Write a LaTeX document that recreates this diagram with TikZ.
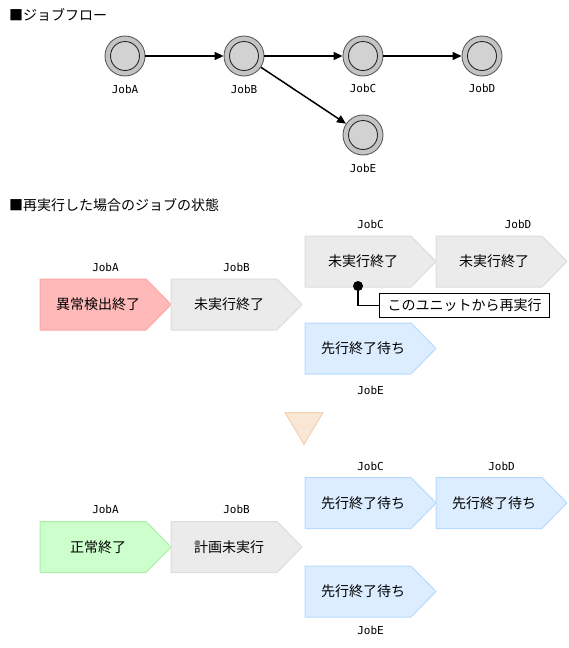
\documentclass[tikz,border=0pt]{standalone}
\usepackage{fontspec}
\newfontfamily\jp{Noto Sans CJK JP}
\newfontfamily\lblfont{DejaVu Sans Mono}
\usetikzlibrary{arrows.meta,calc}
\definecolor{pinkfill}{HTML}{FFB9B9}
\definecolor{pinkdraw}{HTML}{FFA6A6}
\definecolor{grayfill}{HTML}{EBEBEB}
\definecolor{graydraw}{HTML}{DCDCDC}
\definecolor{bluefill}{HTML}{DCEDFF}
\definecolor{bluedraw}{HTML}{B8DAFF}
\definecolor{greenfill}{HTML}{CCFFCC}
\definecolor{greendraw}{HTML}{A8F0A8}
\definecolor{trifill}{HTML}{F9E6D5}
\definecolor{tridraw}{HTML}{F2D2B6}
\definecolor{ringfill}{HTML}{C4C4C4}
\definecolor{ringdraw}{HTML}{5A5A5A}
\definecolor{corefill}{HTML}{D2D2D2}
\definecolor{coredraw}{HTML}{2A2A2A}
\tikzset{
  titletext/.style={anchor=west, font=\jp\fontsize{14}{16}\selectfont, inner sep=0pt},
  joblbl/.style={font=\lblfont\fontsize{11}{13}\selectfont, inner sep=0pt},
  jobtext/.style={font=\jp\fontsize{14}{16}\selectfont, inner sep=0pt},
  ring/.style={circle, minimum size=40pt, inner sep=0pt, fill=ringfill, draw=ringdraw, line width=0.9pt},
  core/.style={circle, minimum size=29pt, inner sep=0pt, fill=corefill, draw=coredraw, line width=0.9pt},
  flow/.style={-{Triangle[length=9pt,width=8pt]}, line width=1.5pt},
  shapeline/.style={line width=1pt},
}
\newcommand\jobshape[6]{%
  \draw[shapeline, fill=#4, draw=#5] (#2,#3) -- ++(106,0) -- ++(25,25.5) -- ++(-25,25.5) -- ++(-106,0) -- cycle;
  \node[jobtext] (#1) at (#2+58,#3+25.5) {#6};
}
\begin{document}
\begin{tikzpicture}[x=1pt,y=-1pt]
\useasboundingbox (0,0) rectangle (569,648);

% ---- Job flow ----
\node[titletext] (t1) at (9,15) {■ジョブフロー};

\node[ring] (fA) at (125,56) {};
\node[core] (fAc) at (fA) {};
\node[ring] (fB) at (244,56) {};
\node[core] (fBc) at (fB) {};
\node[ring] (fC) at (363,56) {};
\node[core] (fCc) at (fC) {};
\node[ring] (fD) at (482,56) {};
\node[core] (fDc) at (fD) {};
\node[ring] (fE) at (363,135) {};
\node[core] (fEc) at (fE) {};

\node[joblbl] (fAl) at (125,89) {JobA};
\node[joblbl] (fBl) at (244,89) {JobB};
\node[joblbl] (fCl) at (363,88) {JobC};
\node[joblbl] (fDl) at (482,88) {JobD};
\node[joblbl] (fEl) at (363,168) {JobE};

\draw[flow] (fA) -- (fB);
\draw[flow] (fB) -- (fC);
\draw[flow] (fC) -- (fD);
\draw[flow] (fB) -- (fE);

% ---- Rerun state ----
\node[titletext] (t2) at (9,205) {■再実行した場合のジョブの状態};

\jobshape{uA}{40}{279}{pinkfill}{pinkdraw}{異常検出終了}
\jobshape{uB}{171}{279}{grayfill}{graydraw}{未実行終了}
\jobshape{uC}{305}{236}{grayfill}{graydraw}{未実行終了}
\jobshape{uD}{436}{236}{grayfill}{graydraw}{未実行終了}
\jobshape{uE}{305}{323}{bluefill}{bluedraw}{先行終了待ち}

\node[joblbl] (uAl) at (105.5,267) {JobA};
\node[joblbl] (uBl) at (236.5,267) {JobB};
\node[joblbl] (uCl) at (370.5,224) {JobC};
\node[joblbl] (uDl) at (518,224) {JobD};
\node[joblbl] (uEl) at (370.5,390) {JobE};

\node[circle, fill=black, minimum size=10pt, inner sep=0pt] (dot) at (358,286) {};
\node[draw=black, fill=white, line width=1pt, minimum width=170pt, minimum height=24pt, anchor=north west, jobtext] (call) at (379,293) {このユニットから再実行};
\draw[line width=1.5pt] (dot.center) |- (call.west);

% ---- down triangle ----
\draw[fill=trifill, draw=tridraw, line width=1pt] (285,412.5) -- (323,412.5) -- (304,444.5) -- cycle;

% ---- After ----
\jobshape{lA}{40}{521.5}{greenfill}{greendraw}{正常終了}
\jobshape{lB}{171}{521.5}{grayfill}{graydraw}{計画未実行}
\jobshape{lC}{305}{477.5}{bluefill}{bluedraw}{先行終了待ち}
\jobshape{lD}{436}{477.5}{bluefill}{bluedraw}{先行終了待ち}
\jobshape{lE}{305}{566}{bluefill}{bluedraw}{先行終了待ち}

\node[joblbl] (lAl) at (105.5,509) {JobA};
\node[joblbl] (lBl) at (236.5,509) {JobB};
\node[joblbl] (lCl) at (370.5,466) {JobC};
\node[joblbl] (lDl) at (501.5,466) {JobD};
\node[joblbl] (lEl) at (370.5,630) {JobE};
\end{tikzpicture}
\end{document}
